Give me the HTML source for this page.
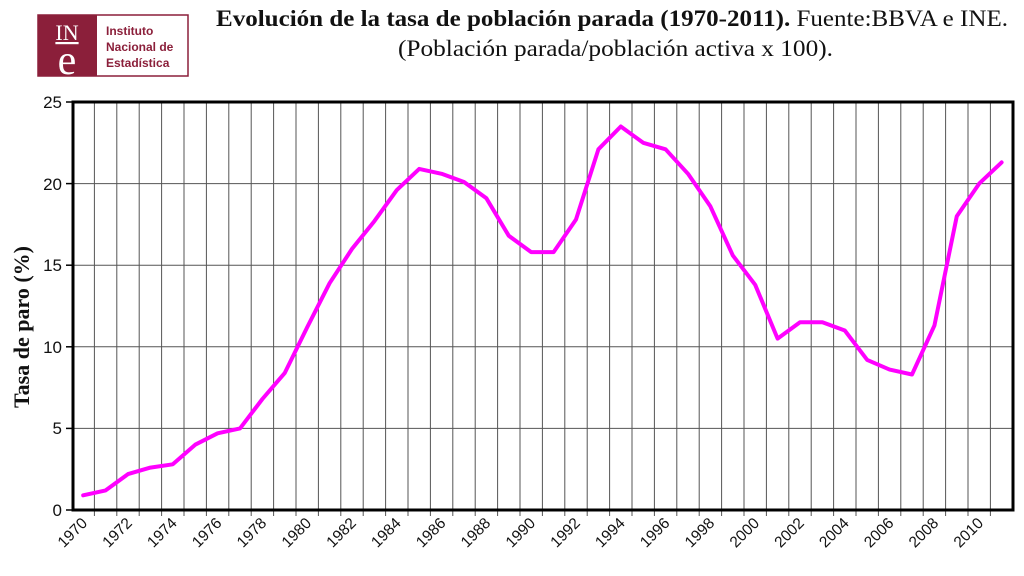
<!DOCTYPE html>
<html><head><meta charset="utf-8"><style>body{margin:0;background:#fff}svg{display:block}</style></head>
<body>
<svg width="1024" height="576" xmlns="http://www.w3.org/2000/svg">
<rect width="1024" height="576" fill="#fff"/>
<!-- logo -->
<rect x="38" y="15" width="150" height="61" fill="#fff" stroke="#8b1f3a" stroke-width="1.5"/>
<rect x="38" y="15" width="59" height="61" fill="#8b1f3a"/>
<text x="67" y="40" font-family="Liberation Serif,serif" font-size="22" fill="#fff" text-anchor="middle" text-decoration="underline">IN</text>
<text x="67" y="74" font-family="Liberation Serif,serif" font-size="42" fill="#fff" text-anchor="middle">e</text>
<text x="106" y="35" font-family="Liberation Sans,sans-serif" font-size="12" font-weight="bold" fill="#8b1f3a">Instituto</text>
<text x="106" y="51" font-family="Liberation Sans,sans-serif" font-size="12" font-weight="bold" fill="#8b1f3a">Nacional de</text>
<text x="106" y="67" font-family="Liberation Sans,sans-serif" font-size="12" font-weight="bold" fill="#8b1f3a">Estadística</text>
<!-- title -->
<text x="216" y="26" font-family="Liberation Serif,serif" font-size="23" textLength="792" lengthAdjust="spacingAndGlyphs" fill="#111"><tspan font-weight="bold">Evolución de la tasa de población parada (1970-2011).</tspan> Fuente:BBVA e INE.</text>
<text x="398" y="56" font-family="Liberation Serif,serif" font-size="23" textLength="435" lengthAdjust="spacingAndGlyphs" fill="#111">(Población parada/población activa x 100).</text>
<!-- gridlines -->
<g stroke="#555" stroke-width="1">
<line x1="72" y1="183.6" x2="1013" y2="183.6"/>
<line x1="72" y1="265.2" x2="1013" y2="265.2"/>
<line x1="72" y1="346.8" x2="1013" y2="346.8"/>
<line x1="72" y1="428.4" x2="1013" y2="428.4"/>
</g>
<g stroke="#555" stroke-width="1" id="vg"></g>
<!-- axes box -->
<rect x="73" y="102" width="940" height="408" fill="none" stroke="#000" stroke-width="3"/>
<g stroke="#000" stroke-width="1.5">
<line x1="66" y1="102" x2="73" y2="102"/><line x1="66" y1="183.6" x2="73" y2="183.6"/><line x1="66" y1="265.2" x2="73" y2="265.2"/><line x1="66" y1="346.8" x2="73" y2="346.8"/><line x1="66" y1="428.4" x2="73" y2="428.4"/><line x1="66" y1="510" x2="73" y2="510"/>
</g>
<g font-family="Liberation Sans,sans-serif" font-size="17" text-anchor="end" fill="#111">
<text x="62" y="108">25</text><text x="62" y="190">20</text><text x="62" y="271">15</text><text x="62" y="353">10</text><text x="62" y="434">5</text><text x="62" y="516">0</text>
</g>
<text transform="translate(29,327) rotate(-90)" font-family="Liberation Serif,serif" font-size="22" font-weight="bold" text-anchor="middle" fill="#111">Tasa  de paro (%)</text>
<g id="xl" font-family="Liberation Sans,sans-serif" font-size="15.5" text-anchor="end" fill="#111"></g>
<polyline fill="none" stroke="#ff00ff" stroke-width="4" stroke-linejoin="round" stroke-linecap="round" points="83.2,495.3 105.6,490.4 128,474.1 150.4,467.6 172.8,464.3 195.2,444.7 217.6,433.3 240,428.4 262.4,399 284.8,372.9 307.2,327.2 329.6,283.2 352,248.9 374.4,221.1 396.8,190.1 419.2,168.9 441.6,173.8 464,182 486.4,198.3 508.8,235.8 531.2,252.1 553.6,252.1 576,219.5 598.4,149.3 620.8,126.5 643.2,142.8 665.6,149.3 688,173.8 710.4,206.4 732.8,255.4 755.2,284.8 777.6,338.6 800,322.3 822.4,322.3 844.8,330.5 867.2,359.9 889.6,369.6 912,374.5 934.4,325.6 956.8,216.2 979.2,183.6 1001.6,162.4"/>
<script>
var ns="http://www.w3.org/2000/svg",vg=document.getElementById("vg"),xl=document.getElementById("xl");
for(var k=1;k<=41;k++){var x=72+22.4*k;var l=document.createElementNS(ns,"line");l.setAttribute("x1",x);l.setAttribute("x2",x);l.setAttribute("y1",102);l.setAttribute("y2",516);vg.appendChild(l);}
for(var i=0;i<=40;i+=2){var cx=83.2+22.4*i+5;var t=document.createElementNS(ns,"text");t.setAttribute("transform","translate("+cx+",524) rotate(-45)");t.textContent=1970+i;xl.appendChild(t);}
</script>
</svg>
</body></html>
